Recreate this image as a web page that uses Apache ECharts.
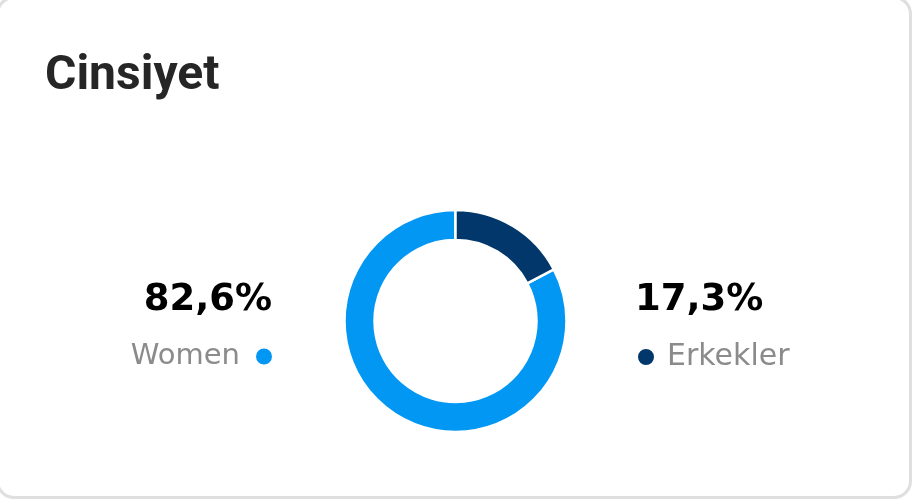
<!DOCTYPE html>
<html>
<head>
<meta charset="utf-8">
<script src="https://cdn.jsdelivr.net/npm/echarts@6/dist/echarts.min.js"></script>
<style>
  html, body { margin: 0; padding: 0; background: #fff; }
  #card {
    position: absolute; left: -4px; top: -4px;
    width: 916px; height: 503px; box-sizing: border-box;
    border: 3px solid #dfdfdf; border-radius: 18px; background: #fff;
  }
  #main { position: absolute; left: 0; top: 0; width: 915px; height: 500px; }
</style>
</head>
<body>
<div id="card"></div>
<div id="main"></div>
<script>
// veriler
const genders = ['Women', 'Erkekler'];
const shares = [82.6, 17.3];
const titleText = 'Cinsiyet';

function fmtPct(v) {
    return v.toFixed(1).replace('.', ',') + '%';
}

var genderChart = echarts.init(document.getElementById('main'));

const sliceColors = ['#0397f4', '#01376a'];
const labelFont = '"DejaVu Sans", sans-serif';

let option = {
    animation: false,
    legend: [
        {
            data: [genders[0]],
            align: 'right',
            icon: 'circle',
            itemWidth: 18,
            itemHeight: 18,
            right: 641,
            top: 342,
            padding: 0,
            selectedMode: false,
            textStyle: {
                color: '#8b8b8b',
                fontSize: 29,
                fontFamily: labelFont,
                padding: [0, 10, 0, 0]
            }
        },
        {
            data: [genders[1]],
            align: 'left',
            icon: 'circle',
            itemWidth: 18,
            itemHeight: 18,
            left: 636,
            top: 342,
            padding: 0,
            selectedMode: false,
            textStyle: {
                color: '#8b8b8b',
                fontSize: 30,
                fontFamily: labelFont,
                padding: [0, 0, 0, 7]
            }
        }
    ],
    graphic: [
        {
            type: 'text',
            style: {
                text: titleText, x: 45, y: 77,
                font: 'bold 48px Roboto', fill: '#262626',
                textAlign: 'left', textVerticalAlign: 'middle'
            }
        },
        {
            type: 'text',
            style: {
                text: fmtPct(shares[0]), x: 272, y: 300,
                font: 'bold 37px "DejaVu Sans"', fill: '#000',
                textAlign: 'right', textVerticalAlign: 'middle'
            }
        },
        {
            type: 'text',
            style: {
                text: fmtPct(shares[1]), x: 635, y: 300,
                font: 'bold 37px "DejaVu Sans"', fill: '#000',
                textAlign: 'left', textVerticalAlign: 'middle'
            }
        }
    ],
    series: [
        {
            name: titleText,
            type: 'pie',
            center: [455.5, 321],
            radius: [81, 111],
            startAngle: 90,
            clockwise: false,
            silent: true,
            label: { show: false },
            labelLine: { show: false },
            itemStyle: {
                borderColor: '#fff',
                borderWidth: 2.5
            },
            data: genders.map(function (g, i) {
                return { name: g, value: shares[i], itemStyle: { color: sliceColors[i] } };
            })
        }
    ]
};

genderChart.setOption(option);
</script>
</body>
</html>
